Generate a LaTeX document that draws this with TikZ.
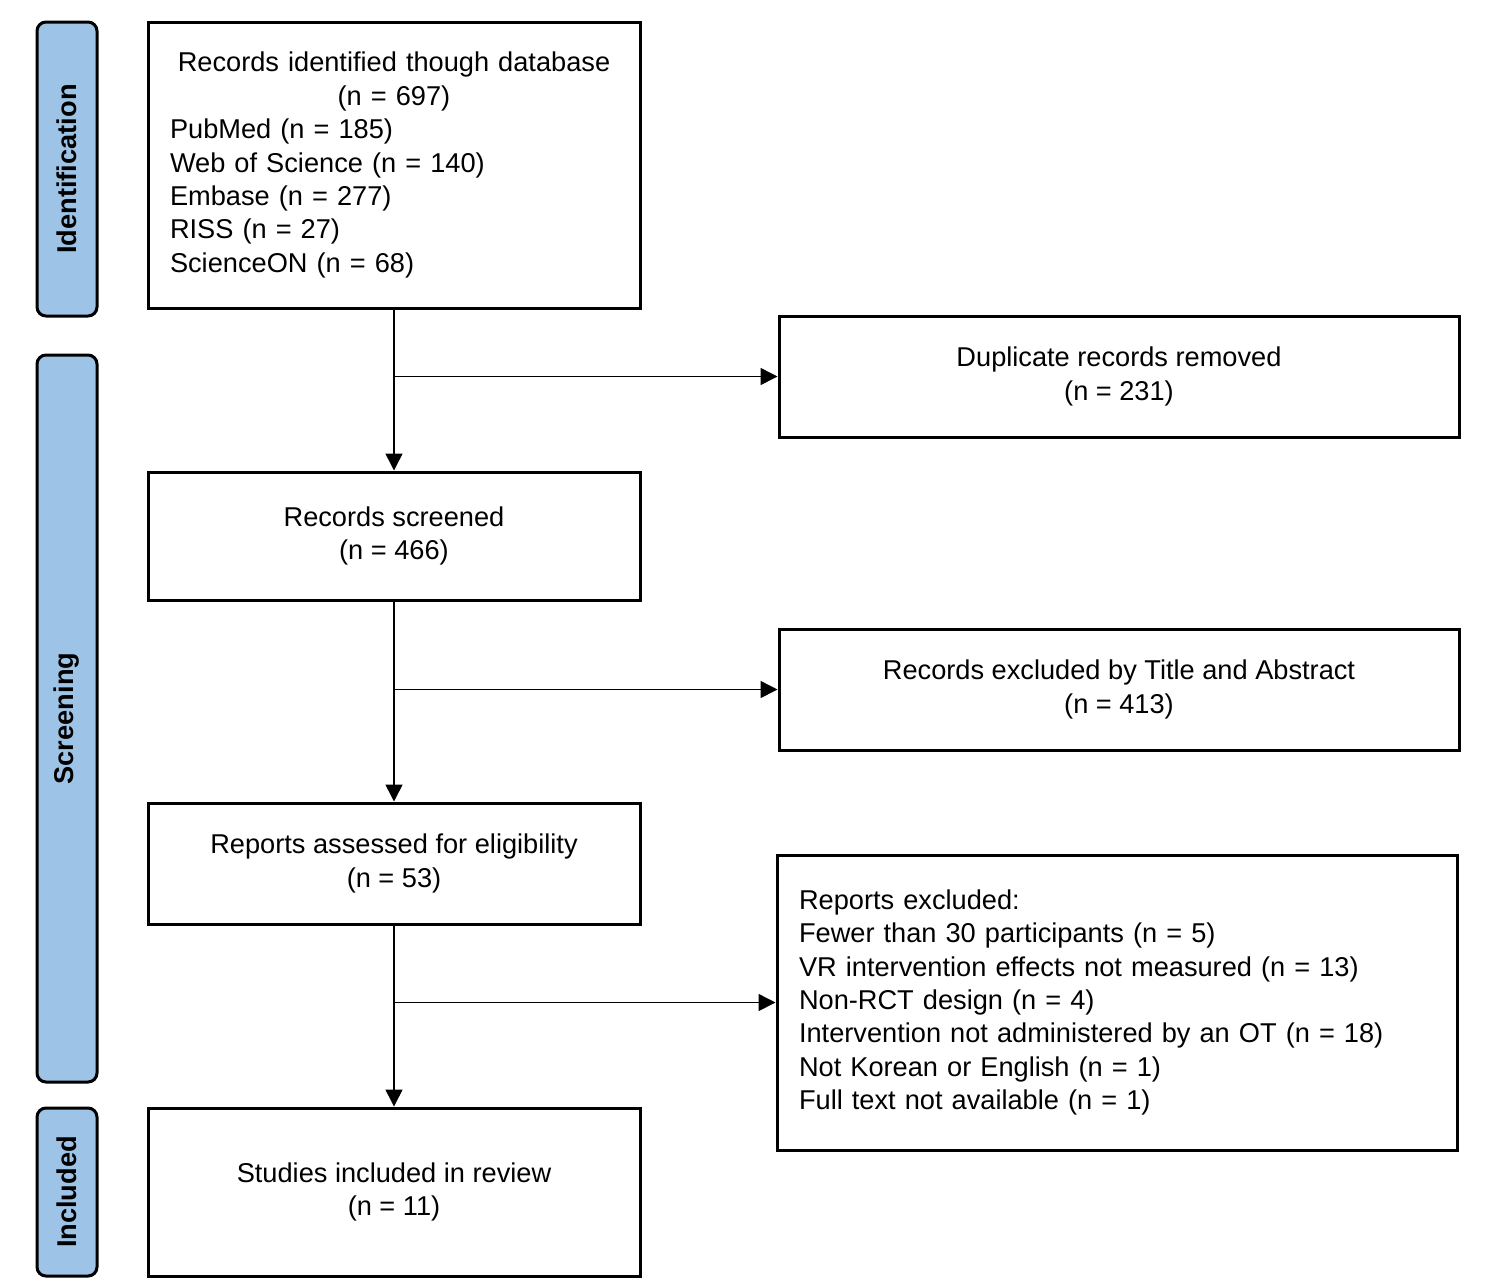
\documentclass[tikz,border=0pt]{standalone}
\usepackage{fontspec}
\setmainfont{Liberation Sans}
\usetikzlibrary{arrows.meta}
\setlength{\parindent}{0pt}
\definecolor{sideblue}{HTML}{9DC3E6}
\tikzset{
  box/.style={draw=black, line width=1.5pt, rectangle, inner sep=0pt,
    font=\fontsize{13.6}{16.7}\selectfont},
  sidebox/.style={draw=black, line width=1.5pt, fill=sideblue, rounded corners=4.5pt,
    rotate=90, inner sep=0pt, minimum height=30pt,
    font=\fontsize{13.6}{16}\selectfont\bfseries},
  conn/.style={line width=0.75pt, -{Triangle[length=8.5pt,width=8.5pt]}},
}
\begin{document}
\begin{tikzpicture}[x=0.5pt, y=-0.5pt]
\useasboundingbox (0,0) rectangle (1498,1286);
% side labels
\node[sidebox, minimum width=147pt] (sid) at (67,169) {Identification};
\node[sidebox, minimum width=363.5pt] (sscr) at (67,718.5) {Screening};
\node[sidebox, minimum width=84pt] (sinc) at (67,1192) {Included};
% main boxes
\node[box, minimum width=246pt, minimum height=143pt, text width=224pt] (ident) at (394,165)
 {{\centering Records identified though database\\(n = 697)\par}
  \raggedright PubMed (n = 185)\\Web of Science (n = 140)\\Embase (n = 277)\\RISS (n = 27)\\ScienceON (n = 68)};
\node[box, minimum width=340pt, minimum height=60.5pt, align=center] (dup) at (1119,376.5)
 {Duplicate records removed\\(n = 231)};
\node[box, minimum width=246pt, minimum height=64pt, align=center] (scr) at (394,536)
 {Records screened\\(n = 466)};
\node[box, minimum width=340pt, minimum height=60.5pt, align=center] (exta) at (1119,689.5)
 {Records excluded by Title and Abstract\\(n = 413)};
\node[box, minimum width=246pt, minimum height=60.5pt, align=center] (elig) at (394,863.5)
 {Reports assessed for eligibility\\(n = 53)};
\node[box, minimum width=340pt, minimum height=147.5pt, text width=318pt, align=left] (exrep) at (1117,1002.5)
 {Reports excluded:\\Fewer than 30 participants (n = 5)\\VR intervention effects not measured (n = 13)\\Non-RCT design (n = 4)\\Intervention not administered by an OT (n = 18)\\Not Korean or English (n = 1)\\Full text not available (n = 1)};
\node[box, minimum width=246pt, minimum height=84pt, align=center] (inc) at (394,1192)
 {Studies included in review\\(n = 11)};
% connectors
\draw[conn] (ident.south) -- (scr.north);
\draw[conn] (scr.south) -- (elig.north);
\draw[conn] (elig.south) -- (inc.north);
\draw[conn] (ident.south |- dup.west) -- (dup.west);
\draw[conn] (scr.south |- exta.west) -- (exta.west);
\draw[conn] (elig.south |- exrep.west) -- (exrep.west);
\end{tikzpicture}
\end{document}
